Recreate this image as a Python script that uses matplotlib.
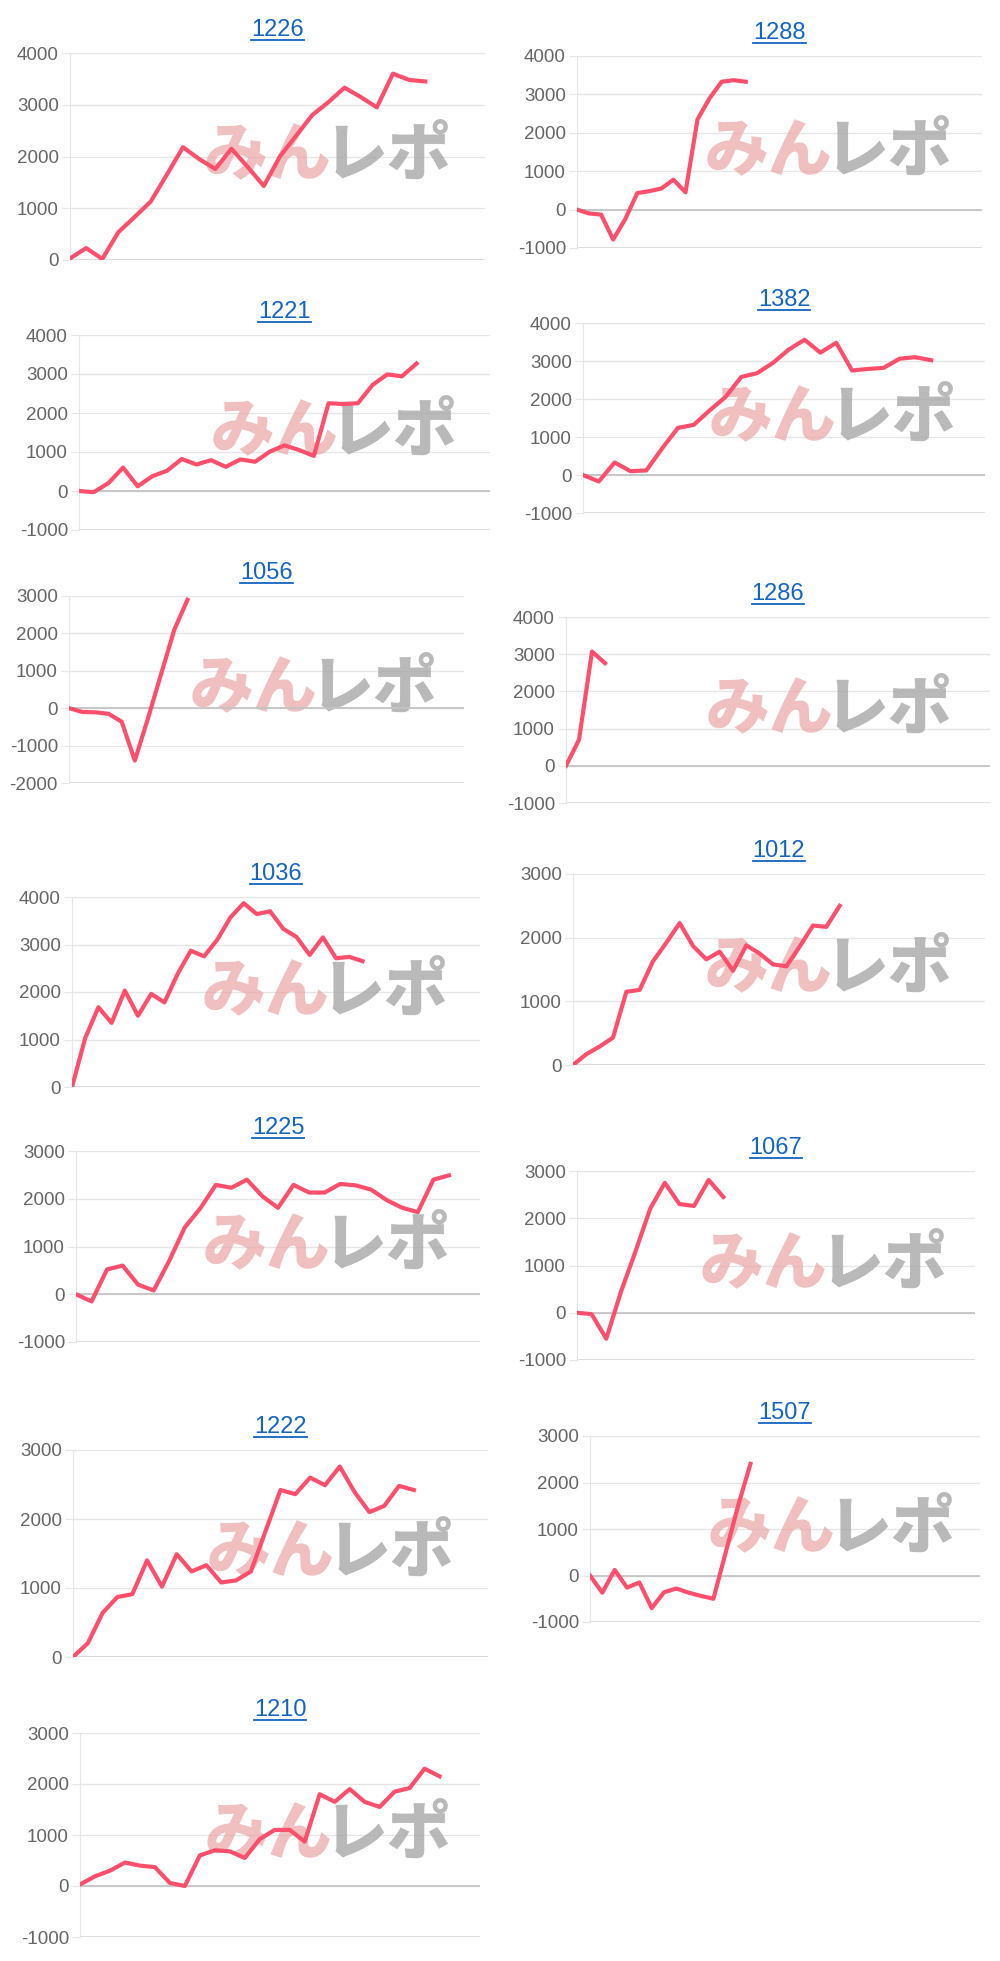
import matplotlib.pyplot as plt
from matplotlib.lines import Line2D

plt.rcParams['font.family'] = ['Liberation Sans', 'DejaVu Sans']
plt.rcParams['axes.unicode_minus'] = False

# machine numbers and their running totals
names = ["1226", "1288", "1221", "1382", "1056", "1286",
         "1036", "1012", "1225", "1067", "1222", "1507", "1210"]

v1226 = [30, 230, 20, 540, 830, 1130, 1650, 2180, 1950, 1760, 2150, 1800,
         1430, 2000, 2400, 2800, 3050, 3330, 3150, 2950, 3600, 3480, 3450]
v1288 = [0, -100, -130, -780, -250, 430, 480, 550, 780, 450, 2350, 2900,
         3330, 3370, 3330]
v1221 = [0, -30, 200, 600, 120, 380, 520, 820, 680, 790, 620, 810, 750,
         1010, 1170, 1050, 900, 2250, 2230, 2250, 2720, 2990, 2940, 3270]
v1382 = [0, -170, 330, 100, 120, 700, 1240, 1320, 1700, 2050, 2580, 2680,
         2950, 3300, 3560, 3220, 3480, 2750, 2790, 2820, 3060, 3100, 3020]
v1056 = [0, -100, -110, -150, -360, -1400, -270, 920, 2100, 2900]
v1286 = [0, 700, 3070, 2760]
v1036 = [0, 1030, 1680, 1350, 2030, 1500, 1960, 1780, 2380, 2870, 2750,
         3100, 3570, 3870, 3640, 3700, 3330, 3160, 2780, 3150, 2710, 2740, 2650]
v1012 = [0, 170, 290, 430, 1150, 1180, 1630, 1920, 2230, 1870, 1660, 1780,
         1480, 1880, 1750, 1580, 1550, 1860, 2190, 2170, 2500]
v1225 = [0, -150, 520, 600, 200, 80, 700, 1400, 1800, 2290, 2230, 2400,
         2050, 1810, 2290, 2130, 2130, 2310, 2280, 2190, 1970, 1810, 1720,
         2400, 2490]
v1067 = [0, -30, -550, 440, 1300, 2200, 2750, 2300, 2260, 2810, 2450]
v1222 = [0, 200, 640, 870, 910, 1400, 1020, 1490, 1240, 1330, 1080, 1110,
         1240, 1830, 2420, 2360, 2600, 2490, 2760, 2390, 2100, 2190, 2480, 2420]
v1507 = [0, -370, 120, -260, -150, -700, -360, -280, -370, -440, -500,
         500, 1500, 2400]
v1210 = [30, 190, 300, 460, 400, 370, 60, 0, 600, 700, 680, 550, 920,
         1100, 1100, 870, 1800, 1650, 1900, 1650, 1550, 1850, 1920, 2300, 2150]

series = [v1226, v1288, v1221, v1382, v1056, v1286, v1036, v1012,
          v1225, v1067, v1222, v1507, v1210]
yranges = [(0, 4000), (-1000, 4000), (-1000, 4000), (-1000, 4000),
           (-2000, 3000), (-1000, 4000), (0, 4000), (0, 3000),
           (-1000, 3000), (-1000, 3000), (0, 3000), (-1000, 3000),
           (-1000, 3000)]
xspans = [25.7, 33.6, 28, 25.4, 30, 32.6, 30.9, 30.9, 26, 27.2, 28, 31.6, 26.7]

# plot boxes in pixels: left, right, top, bottom
boxes = [(70, 485, 53, 260), (577, 982, 56, 248),
         (79, 490, 335, 530), (583, 985, 323, 513),
         (69, 464, 596, 783), (566, 990, 617, 803),
         (72, 480, 897, 1087), (573, 985, 874, 1065),
         (76, 480, 1151, 1342), (577, 975, 1171, 1360),
         (73, 488, 1450, 1657), (590, 980, 1436, 1622),
         (80, 480, 1733, 1937)]

W, H = 1000, 1961
fig = plt.figure(figsize=(W / 100, H / 100), dpi=100)
fig.patch.set_facecolor("white")

titles = []
for name, vals, (y0, y1), span, (l, r, t, b) in zip(names, series, yranges, xspans, boxes):
    ax = fig.add_axes([l / W, 1 - b / H, (r - l) / W, (b - t) / H])
    ax.plot(range(len(vals)), vals, color="#ff4f6d", lw=3, zorder=3)
    ax.set_xlim(0, span)
    ax.set_ylim(y0, y1)
    ax.set_yticks(range(y0, y1 + 1, 1000))
    ax.set_xticks([])
    for s in ["top", "right", "bottom"]:
        ax.spines[s].set_visible(False)
    ax.spines["left"].set_color("#e6e6e6")
    ax.tick_params(axis="y", length=6, color="#e6e6e6", labelsize=13.5,
                   labelcolor="#666666", pad=2)
    ax.grid(axis="y", color="#e6e6e6", lw=1)
    ax.axhline(0, color="#c4c4c4", lw=1.3, zorder=2)
    ax.axhline(y0, color="#dcdcdc", lw=1.3, zorder=2)
    ax.set_axisbelow(True)
    ax.text(0.63, 0.5, "みん", transform=ax.transAxes, ha="right", va="center",
            fontsize=46, fontweight="black", style="italic", color="#eaa5a5",
            alpha=0.7, family=["Noto Sans CJK JP"], zorder=1)
    ax.text(0.61, 0.5, "レポ", transform=ax.transAxes, ha="left", va="center",
            fontsize=46, fontweight="black", style="italic", color="#a8a8a8",
            alpha=0.8, family=["Noto Sans CJK JP"], zorder=1)
    tt = ax.set_title(name, color="#1565c0", fontsize=17, pad=12)
    titles.append(tt)

# underline the titles like links
fig.canvas.draw()
renderer = fig.canvas.get_renderer()
for tt in titles:
    bb = tt.get_window_extent(renderer)
    y = (bb.y0 + 1) / H
    fig.add_artist(Line2D([bb.x0 / W, bb.x1 / W], [y, y], color="#1565c0", lw=1.3))

fig.savefig("out.png", dpi=100)
